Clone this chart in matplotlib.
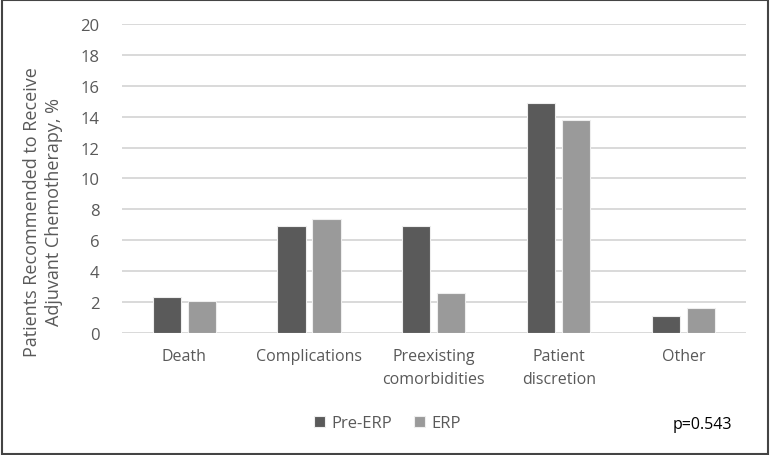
import matplotlib.pyplot as plt
import numpy as np
from matplotlib.patches import Rectangle

categories = ['Death', 'Complications', 'Preexisting\ncomorbidities', 'Patient\ndiscretion', 'Other']
pre_erp = [2.3, 6.9, 6.9, 14.9, 1.1]
erp = [2.1, 7.4, 2.6, 13.8, 1.6]
yticks = [0, 2, 4, 6, 8, 10, 12, 14, 16, 18, 20]

plt.rcParams['font.family'] = ['Open Sans', 'DejaVu Sans']
txt = '#595959'

fig = plt.figure(figsize=(7.7, 4.56), dpi=100)
ax = fig.add_axes([0.158, 0.2675, 0.811, 0.678])

x = np.arange(len(categories))
w = 0.225
off = 0.14
ax.bar(x - off, pre_erp, width=w, color='#5a5a5a', edgecolor='#eeeeee', linewidth=0.8, label='Pre-ERP', zorder=3)
ax.bar(x + off, erp, width=w, color='#9a9a9a', edgecolor='#eeeeee', linewidth=0.8, label='ERP', zorder=3)

ax.set_xlim(-0.5, len(categories) - 0.5)
ax.set_ylim(0, 20)
ax.set_yticks(yticks)
ax.set_yticklabels([str(t) for t in yticks], fontsize=12, color=txt)
ax.set_xticks(x)
ax.set_xticklabels(categories, fontsize=11.5, color=txt, linespacing=1.6, va='top')
ax.tick_params(axis='x', length=0, pad=11)
ax.tick_params(axis='y', length=0, pad=16)
ax.grid(axis='y', color='#d9d9d9', linewidth=1.4, zorder=0)
for s in ax.spines.values():
    s.set_visible(False)

fig.text(43 / 770, 1 - 212 / 456, 'Patients Recommended to Receive\nAdjuvant Chemotherapy, %',
         fontsize=13, color=txt, rotation=90, ha='center', va='center', linespacing=1.25,
         multialignment='center')

leg = fig.legend(loc='center', bbox_to_anchor=(0.503, 0.07), ncol=2, frameon=False, fontsize=12,
                 handlelength=0.65, handleheight=0.65, handletextpad=0.4, columnspacing=1.3)
for t in leg.get_texts():
    t.set_color(txt)

fig.text(0.873, 0.068, 'p=0.543', fontsize=11.5, color='black', va='center')

fig.patches.append(Rectangle((0.002, 0.003), 0.996, 0.994, transform=fig.transFigure,
                             fill=False, edgecolor='#444444', linewidth=1.5))

fig.savefig('out.png', dpi=100)
